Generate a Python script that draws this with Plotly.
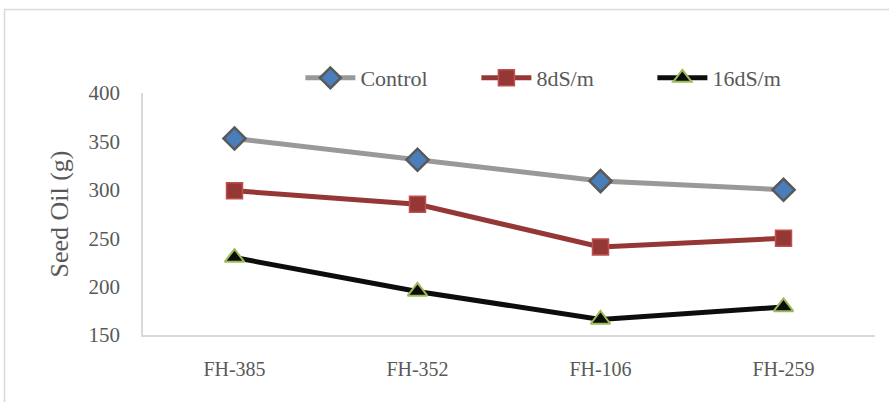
import plotly.graph_objects as go

categories = ["FH-385", "FH-352", "FH-106", "FH-259"]
control = [353, 331, 309, 300]
ds8 = [299, 285, 241, 250]
ds16 = [230, 195, 166, 179]
y_ticks = [150, 200, 250, 300, 350, 400]

W, H = 889, 402
L, R, T, B = 143, 14, 93, 67
pw, ph = W - L - R, H - T - B

fig = go.Figure()
fig.add_trace(go.Scatter(
    x=categories, y=control, name="Control", mode="lines+markers",
    line=dict(color="#999999", width=5),
    marker=dict(symbol="diamond", size=17, color="#4a7ebb",
                line=dict(color="#595959", width=2.5)),
))
fig.add_trace(go.Scatter(
    x=categories, y=ds8, name="8dS/m", mode="lines+markers",
    line=dict(color="#953735", width=5),
    marker=dict(symbol="square", size=16, color="#953735",
                line=dict(color="#c0504d", width=1.5)),
))
fig.add_trace(go.Scatter(
    x=categories, y=ds16, name="16dS/m", mode="lines+markers",
    line=dict(color="#0d0d0d", width=5),
    marker=dict(symbol="triangle-up", size=17, color="#0d0d0d",
                line=dict(color="#9bbb59", width=2)),
))

# outer chart frame (cropped at right/bottom like the reference)
fig.add_shape(type="rect", xref="paper", yref="paper",
              x0=(4.5 - L) / pw, x1=(W + 10 - L) / pw,
              y0=-(B + 10) / ph,
              y1=(H - B - 9.5) / ph,
              line=dict(color="#d9d9d9", width=1.5), fillcolor="rgba(0,0,0,0)",
              layer="below")

fig.update_layout(
    width=W, height=H,
    margin=dict(l=L, r=R, t=T, b=B),
    paper_bgcolor="white", plot_bgcolor="white",
    font=dict(family="Liberation Serif, Times New Roman, serif", color="#595959"),
    showlegend=True,
    legend=dict(orientation="h", x=0.215, y=0.975, xanchor="left", yanchor="bottom",
                font=dict(size=22, color="#595959"), itemwidth=50,
                entrywidth=111, traceorder="normal"),
    xaxis=dict(
        type="category", range=[-0.5, 3.5],
        showline=True, linecolor="#d9d9d9", linewidth=1.5,
        showgrid=False, zeroline=False, ticks="",
        tickfont=dict(size=20, color="#595959"),
        ticklabelstandoff=15,
    ),
    yaxis=dict(
        range=[150, 400], tickvals=y_ticks,
        showline=True, linecolor="#d9d9d9", linewidth=1.5,
        showgrid=False, zeroline=False, ticks="",
        tickfont=dict(size=21, color="#595959"),
        ticklabelstandoff=17,
        title=dict(text="Seed Oil (g)", font=dict(size=26, color="#595959"), standoff=12),
    ),
)

fig.write_html("out.html")
